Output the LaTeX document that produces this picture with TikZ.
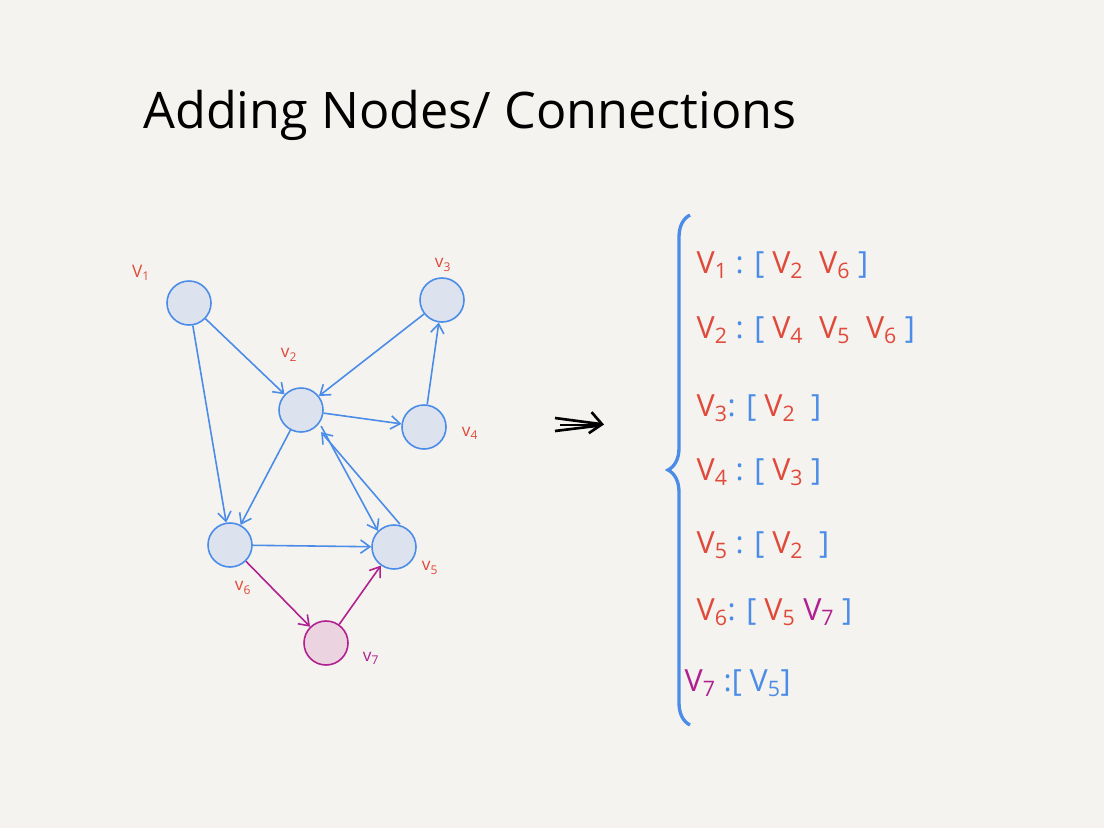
\documentclass[tikz,border=0pt]{standalone}
\usepackage{fontspec}
\setmainfont{Open Sans}
\usetikzlibrary{arrows.meta,decorations.pathreplacing}
\definecolor{bg}{HTML}{F4F3EF}
\definecolor{bl}{HTML}{4A8CE8}
\definecolor{nf}{HTML}{DDE3EE}
\definecolor{rd}{HTML}{E04A3A}
\definecolor{pu}{HTML}{B0208F}
\definecolor{pf}{HTML}{EBD3E0}
\newcommand\sbs[1]{\textsubscript{#1}}
\tikzset{
 vert/.style={circle,draw=bl,fill=nf,line width=1.2pt,minimum size=44\px,inner sep=0pt},
 pvert/.style={vert,draw=pu,fill=pf},
 lab/.style={text=rd,font=\fontsize{13}{13}\selectfont},
 edge/.style={draw=bl,line width=1.2pt,-{Straight Barb[length=7pt,width=10pt]}},
 pedge/.style={edge,draw=pu},
 row/.style={anchor=west,font=\fontsize{23}{23}\selectfont},
}
\newlength\px \setlength\px{0.0265cm}
\begin{document}
\begin{tikzpicture}[x=\px,y=-\px]
\fill[bg] (0,0) rectangle (1104,828);
\useasboundingbox (0,0) rectangle (1104,828);
\node[font=\fontsize{38}{38}\selectfont] (title) at (470,115) {Adding Nodes/ Connections};
\node[vert] (v1) at (189,303) {};
\node[vert] (v3) at (442,300) {};
\node[vert] (v2) at (301,410) {};
\node[vert] (v4) at (424,427) {};
\node[vert] (v6) at (230,545) {};
\node[vert] (v5) at (394,547) {};
\node[pvert] (v7) at (326,643) {};
\node[lab] (l1) at (141,273) {V\sbs{1}};
\node[lab] (l3) at (443,265) {v\sbs{3}};
\node[lab] (l2) at (289,355) {v\sbs{2}};
\node[lab] (l4) at (470,433) {v\sbs{4}};
\node[lab] (l6) at (243,588) {v\sbs{6}};
\node[lab] (l5) at (430,568) {v\sbs{5}};
\node[lab,text=pu] (l7) at (371,658) {v\sbs{7}};
\draw[edge] (v1) -- (v2);
\draw[edge] (v1) -- (v6);
\draw[edge] (v3) -- (v2);
\draw[edge] (v2) -- (v4);
\draw[edge] (v4) -- (v3);
\draw[edge] (v2) -- (v6);
\draw[edge] ([xshift=4\px]v2.south east) -- (v5.north west);
\draw[edge] ([xshift=6\px]v5.north) -- ([xshift=4\px,yshift=-6\px]v2.south east);
\draw[edge] (v6) -- (v5);
\draw[pedge] (v6) -- (v7);
\draw[pedge] (v7) -- (v5);
\draw[line width=2pt,-{Straight Barb[length=9pt,width=16pt]}] (555,418) -- (604,424.5);
\draw[line width=2pt] (555,431) -- (600,425.5);
\draw[line width=2pt] (560,425) -- (600,425);
\draw[bl,line width=2.5pt,decorate,decoration={brace,amplitude=22\px,mirror}] (690,215) -- (690,725);
\node[row] (r1) at (692,265) {\textcolor{rd}{V\sbs{1}} \textcolor{bl}{: [} \textcolor{rd}{V\sbs{2} \ V\sbs{6}} \textcolor{bl}{]}};
\node[row] (r2) at (692,330) {\textcolor{rd}{V\sbs{2}} \textcolor{bl}{: [} \textcolor{rd}{V\sbs{4} \ V\sbs{5} \ V\sbs{6}} \textcolor{bl}{]}};
\node[row] (r3) at (692,408) {\textcolor{rd}{V\sbs{3}}\textcolor{bl}{: [} \textcolor{rd}{V\sbs{2}} \ \textcolor{bl}{]}};
\node[row] (r4) at (692,472) {\textcolor{rd}{V\sbs{4}} \textcolor{bl}{: [} \textcolor{rd}{V\sbs{3}} \textcolor{bl}{]}};
\node[row] (r5) at (692,545) {\textcolor{rd}{V\sbs{5}} \textcolor{bl}{: [} \textcolor{rd}{V\sbs{2}} \ \textcolor{bl}{]}};
\node[row] (r6) at (692,612) {\textcolor{rd}{V\sbs{6}}\textcolor{bl}{: [} \textcolor{rd}{V\sbs{5}} \textcolor{pu}{V\sbs{7}} \textcolor{bl}{]}};
\node[row] (r7) at (680,683) {\textcolor{pu}{V\sbs{7}} \textcolor{bl}{:[} \textcolor{bl}{V\sbs{5}}\textcolor{bl}{]}};
\end{tikzpicture}
\end{document}
